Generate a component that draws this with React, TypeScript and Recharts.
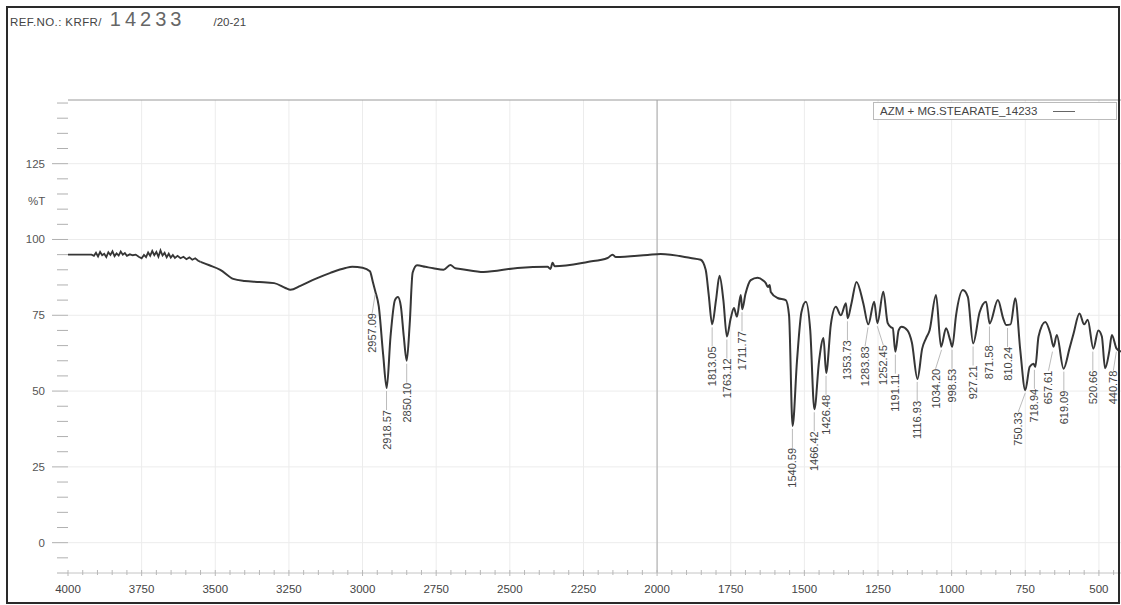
import React from 'react';
import {
  ComposedChart, Line, XAxis, YAxis, CartesianGrid, ReferenceLine, ReferenceDot,
} from 'recharts';

// wavenumber (cm-1)
const wavenumbers = [
  4000, 3960, 3920, 3912, 3905, 3898, 3891, 3884, 3877, 3870, 3863, 3856, 3849, 3842, 3835, 3828,
  3821, 3814, 3807, 3800, 3790, 3780, 3770, 3760, 3750, 3742, 3735, 3728, 3721, 3714, 3707, 3700,
  3693, 3686, 3679, 3672, 3665, 3658, 3651, 3644, 3637, 3628, 3618, 3608, 3598, 3588, 3578, 3568,
  3558, 3550,
  3520, 3483, 3439, 3400, 3350, 3300, 3262, 3245, 3211, 3160, 3109, 3058,
  3035, 3000, 2975, 2965, 2957, 2945, 2930, 2918, 2905, 2890, 2880, 2870, 2860, 2850, 2840, 2830,
  2815, 2787, 2760, 2725, 2702, 2685, 2668, 2589, 2474, 2372, 2362, 2355, 2348, 2236, 2168, 2151,
  2140, 2032, 1988, 1886, 1852, 1835, 1825, 1813, 1800, 1788, 1775, 1763, 1750, 1739, 1729, 1716,
  1711, 1700, 1682, 1659, 1640, 1631, 1624, 1618, 1614, 1591, 1563, 1552, 1540, 1525, 1510, 1495,
  1480, 1466, 1450, 1435, 1426, 1410, 1393, 1376, 1359, 1353, 1340, 1323, 1300, 1283, 1263, 1252,
  1232, 1217, 1205, 1200, 1191, 1180, 1170, 1150, 1135, 1116, 1100, 1087, 1075, 1053, 1036, 1019,
  1005, 998, 985, 962, 945, 927, 905, 883, 871, 843, 825, 815, 800, 784, 767, 750,
  735, 722, 716, 705, 682, 665, 654, 643, 620, 600, 586, 566, 550, 538, 519, 502,
  490, 479, 465, 456, 440, 425,
];

// %T at each wavenumber
const transmittance = [
  95.0, 95.0, 95.0, 94.6, 95.6, 94.4, 95.9, 94.8, 95.3, 94.2, 95.8, 94.9, 96.1, 94.5, 95.4, 94.7,
  96.0, 95.0, 95.5, 94.6, 95.1, 94.8, 95.0, 94.3, 93.8, 94.9, 94.2, 95.7, 94.6, 96.2, 94.8, 95.9,
  94.3, 96.4, 94.7, 95.6, 94.1, 95.3, 94.0, 94.9, 93.9, 94.6, 93.8, 94.3, 93.5, 94.1, 93.3, 93.8,
  93.0, 92.6,
  91.5, 90.0, 87.0, 86.3, 86.0, 85.6, 84.0, 83.4, 84.7, 87.0, 89.0, 90.6,
  91.0, 90.7, 89.5, 86.0, 83.0, 78.0, 62.0, 51.0, 68.0, 80.0, 81.0, 78.0, 68.0, 60.0, 72.0, 89.0,
  91.5, 91.0, 90.5, 90.0, 91.6, 90.5, 90.3, 89.3, 90.6, 91.0, 90.3, 92.3, 91.2, 92.6, 93.9, 95.0,
  94.2, 94.9, 95.2, 93.9, 93.3, 90.0, 82.0, 72.0, 80.0, 88.0, 80.0, 68.0, 74.0, 77.4, 74.5, 81.7,
  77.0, 82.0, 86.6, 87.4, 86.5, 85.6, 84.3, 85.0, 82.7, 80.7, 80.0, 75.0, 38.5, 60.0, 76.0, 79.5,
  70.0, 44.0, 60.0, 67.5, 56.0, 72.0, 77.8, 75.0, 79.0, 74.0, 79.0, 86.0, 79.0, 72.0, 79.5, 72.4,
  82.8, 72.4, 71.0, 70.8, 63.0, 70.0, 71.2, 70.0, 66.0, 54.0, 64.0, 67.4, 70.0, 81.7, 64.6, 70.7,
  66.8, 64.6, 75.0, 83.3, 81.1, 65.7, 76.0, 79.5, 72.3, 80.0, 74.0, 71.8, 72.0, 80.6, 63.5, 50.3,
  58.0, 59.0, 58.0, 68.0, 72.8, 69.0, 64.6, 68.5, 57.4, 64.0, 69.0, 75.6, 72.0, 73.5, 64.0, 70.0,
  68.0, 57.5, 63.0, 68.5, 64.0, 63.0,
];

const peakLabels = [
  '2957.09', '2918.57', '2850.10', '1813.05', '1763.12', '1711.77', '1540.59', '1466.42',
  '1426.48', '1353.73', '1283.83', '1252.45', '1191.11', '1116.93', '1034.20', '998.53',
  '927.21', '871.58', '810.24', '750.33', '718.94', '657.61', '619.09', '520.66', '440.78',
];
const peakT = [
  83, 51, 60, 72, 68, 77, 38.5, 44,
  56, 74, 72, 72.4, 63, 54, 64.6, 64.6,
  65.7, 72.3, 71.8, 50.3, 58, 64, 57.4, 64, 64,
];

const xTickLabels = [4000, 3750, 3500, 3250, 3000, 2750, 2500, 2250, 2000, 1750, 1500, 1250, 1000, 750, 500];
const yTickLabels = [0, 25, 50, 75, 100, 125];

const xMinorTicks = Array.from({ length: 72 }, (_, i) => 4000 - i * 50);
const yMinorTicks = Array.from({ length: 32 }, (_, i) => -10 + i * 5);

const spectrum = wavenumbers.map((wn, i) => ({ wn, t: transmittance[i] }));
// the noisy high-wavenumber stretch is drawn with straight segments
const NOISE_END = wavenumbers.indexOf(3550);
const noisyPart = spectrum.slice(0, NOISE_END + 1);
const mainPart = spectrum.slice(NOISE_END);

// sideways nudges (px) so crowded peak labels sit where the printout put them
const LABEL_NUDGE: Record<string, number> = {
  '2957.09': -3, '1283.83': -3, '1252.45': 6, '1034.20': -6, '750.33': -7, '657.61': -4, '440.78': -3,
};

const FONT = '"Liberation Sans", Arial, sans-serif';
const INK = '#363636';

function XTick({ x, y, payload }: any) {
  const v = payload.value;
  const major = v % 250 === 0;
  return (
    <g>
      <line x1={x} x2={x} y1={y - 3} y2={y + (major ? 3 : 2)} stroke="#b8b8b8" />
      {major && (
        <text x={x} y={y + 20} textAnchor="middle" fontSize={11.5} fill="#444" fontFamily={FONT}>{v}</text>
      )}
    </g>
  );
}

function YTick({ x, y, payload }: any) {
  const v = payload.value;
  const major = yTickLabels.includes(v);
  return (
    <g>
      <line x1={x - (major ? 16 : 11)} x2={x} y1={y} y2={y} stroke="#b0b0b0" />
      {major && (
        <text x={x - 23} y={y + 4} textAnchor="end" fontSize={11.5} fill="#555" fontFamily={FONT}>{v}</text>
      )}
    </g>
  );
}

function PeakMark({ cx, cy, text }: any) {
  const top = cy + 22;
  const lx = cx + (LABEL_NUDGE[text] || 0);
  return (
    <g>
      <line x1={cx} x2={lx} y1={cy + 3} y2={top} stroke="#aaa" strokeWidth={0.8} />
      <text
        x={lx + 4} y={top} transform={`rotate(-90 ${lx + 4} ${top})`} textAnchor="end"
        fontSize={11} fill="#444" fontFamily={FONT}
      >{text}</text>
    </g>
  );
}

export default function App() {
  return (
    <div style={{ position: 'absolute', left: 0, top: 0, width: 1121, height: 605, background: '#fff', overflow: 'hidden' }}>
      <div style={{ position: 'absolute', left: 10, top: 8, fontFamily: FONT, fontSize: 11.5, color: '#444', whiteSpace: 'nowrap' }}>
        <span style={{ letterSpacing: 0.4 }}>REF.NO.: KRFR/</span>
        <span style={{ fontSize: 20, color: '#666', letterSpacing: 4, marginLeft: 8 }}>14233</span>
        <span style={{ marginLeft: 28 }}>/20-21</span>
      </div>
      <div style={{ position: 'absolute', left: 28, top: 195, fontFamily: FONT, fontSize: 11.5, color: '#555' }}>%T</div>
      <ComposedChart width={1121} height={605} margin={{ top: 100, right: 0, bottom: 0, left: 0 }}>
        <CartesianGrid
          stroke="#ececec"
          horizontalValues={yTickLabels}
          verticalValues={xTickLabels.slice(1)}
        />
        <XAxis
          type="number" dataKey="wn" domain={[425, 4000]} reversed allowDataOverflow
          ticks={xMinorTicks} interval={0} tick={<XTick />} tickLine={false} tickSize={0} tickMargin={0}
          axisLine={{ stroke: '#c4c4c4' }} height={32}
        />
        <YAxis
          type="number" domain={[-10, 146]} allowDataOverflow ticks={yMinorTicks} interval={0}
          tick={<YTick />} tickLine={false} tickSize={0} tickMargin={0} axisLine={false} width={68}
        />
        <ReferenceLine y={146} stroke="#9a9a9a" />
        <ReferenceLine x={2000} stroke="#a8a8a8" />
        <Line
          data={noisyPart} type="linear" dataKey="t" stroke={INK} strokeWidth={1.8}
          dot={false} isAnimationActive={false}
        />
        <Line
          data={mainPart} type="monotone" dataKey="t" name="AZM + MG.STEARATE_14233" stroke={INK} strokeWidth={2}
          dot={false} isAnimationActive={false}
        />
        {peakLabels.map((lab, i) => (
          <ReferenceDot
            key={lab} x={parseFloat(lab)} y={peakT[i]} r={0}
            shape={(p: any) => <PeakMark cx={p.cx} cy={p.cy} text={lab} />}
          />
        ))}
      </ComposedChart>
      <div style={{
        position: 'absolute', left: 873, top: 102, width: 244, height: 18,
        border: '1px solid #bbb', display: 'flex', alignItems: 'center', boxSizing: 'border-box',
        fontFamily: FONT, fontSize: 11.5, color: '#444', paddingLeft: 6, background: '#fff',
      }}>
        <span>AZM + MG.STEARATE_14233</span>
        <span style={{ display: 'inline-block', width: 22, height: 0, borderTop: '1px solid #666', marginLeft: 16 }} />
      </div>
      <div style={{
        position: 'absolute', left: 6, top: 6, width: 1114, height: 598,
        border: '2px solid #2a2a2a', boxSizing: 'border-box', pointerEvents: 'none',
      }} />
    </div>
  );
}
